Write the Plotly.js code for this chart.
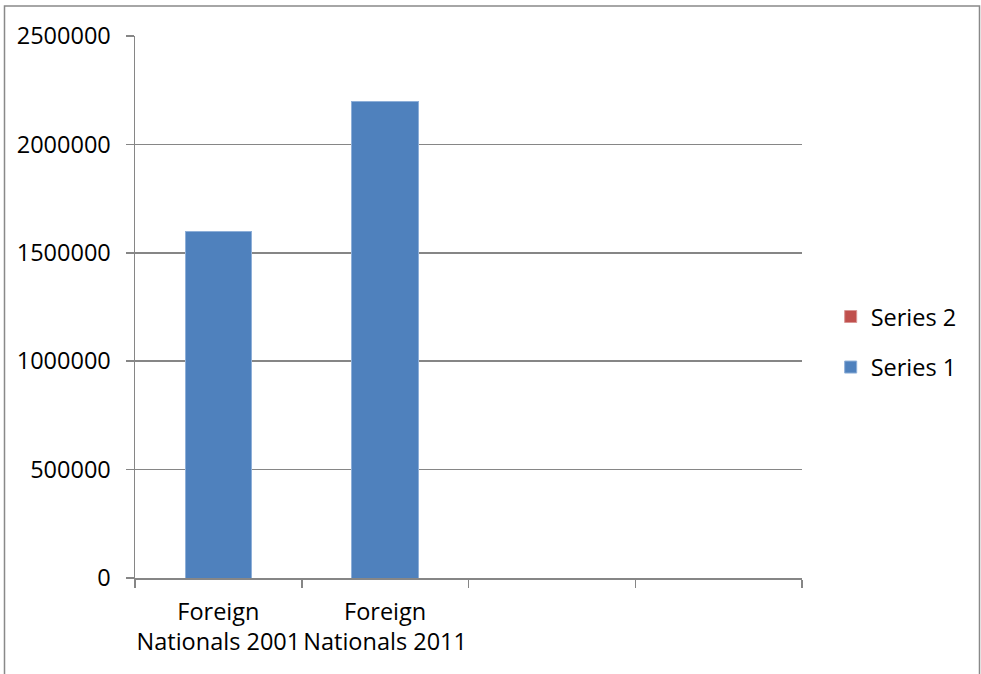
<!DOCTYPE html>
<html>
<head>
<meta charset="utf-8">
<script src="https://cdn.plot.ly/plotly-3.0.1.min.js"></script>
<style>html,body{margin:0;padding:0;background:#fff;}#chart{width:981px;height:674px;}</style>
</head>
<body>
<div id="chart"></div>
<script>
var categories = ["Foreign<br>Nationals 2001", "Foreign<br>Nationals 2011", "", ""];
var series1 = [1600000, 2200000, null, null];
var series2 = [null, null, null, null];
var yTicks = [0, 500000, 1000000, 1500000, 2000000, 2500000];
var yTickLabels = ["0", "500000", "1000000", "1500000", "2000000", "2500000"];

var font = {family: "Open Sans, Liberation Sans, sans-serif", size: 23.5, color: "#000"};
var xPos = categories.map(function (c, i) { return i; });
var labelled = xPos.filter(function (i) { return categories[i] !== ""; });
var boundaries = [-0.5].concat(xPos.map(function (i) { return i + 0.5; }));

var traces = [
  {type: "bar", name: "Series 2", x: xPos, y: series2, legendgroup: "s2",
   marker: {color: "#C0504D", line: {color: "#D99694", width: 1}}},
  {type: "bar", name: "Series 1", x: xPos, y: series1, legendgroup: "s1",
   marker: {color: "#4F81BD", line: {color: "#8EAFD8", width: 1}}}
];

var layout = {
  width: 981, height: 674,
  margin: {l: 135, r: 179, t: 36, b: 96},
  paper_bgcolor: "#fff", plot_bgcolor: "#fff",
  font: font,
  barmode: "stack",
  bargap: 0.6,
  showlegend: true,
  legend: {x: 1.043, xanchor: "left", y: 0.435, yanchor: "middle",
           traceorder: "grouped", tracegroupgap: 17,
           font: font, bgcolor: "rgba(0,0,0,0)"},
  xaxis: {type: "linear", range: [-0.5, xPos.length - 0.5],
          tickmode: "array", tickvals: labelled,
          ticktext: labelled.map(function (i) { return categories[i]; }),
          ticks: "", ticklabelstandoff: 12,
          minor: {tickmode: "array", tickvals: boundaries, ticks: "outside", ticklen: 8,
                  tickcolor: "#868686", tickwidth: 1.5, showgrid: false},
          showline: true, linecolor: "#868686", linewidth: 1.5,
          showgrid: false, zeroline: false, tickfont: font, fixedrange: true},
  yaxis: {range: [0, 2500000], tickmode: "array", tickvals: yTicks, ticktext: yTickLabels,
          showline: true, linecolor: "#868686", linewidth: 1.5,
          ticks: "outside", ticklen: 8, tickcolor: "#868686", tickwidth: 1.5,
          showgrid: true, gridcolor: "#868686", gridwidth: 1.5,
          zeroline: false, tickfont: font, ticklabelstandoff: 10, fixedrange: true},
  shapes: [
    {type: "rect", xref: "paper", yref: "paper",
     x0: (4.5 - 135) / 667, x1: (979.5 - 135) / 667,
     y0: (578 - 700) / 542, y1: (578 - 6) / 542,
     line: {color: "#898989", width: 1.5}, fillcolor: "rgba(0,0,0,0)", layer: "below"}
  ]
};

Plotly.newPlot("chart", traces, layout, {displayModeBar: false, staticPlot: true});
</script>
</body>
</html>
